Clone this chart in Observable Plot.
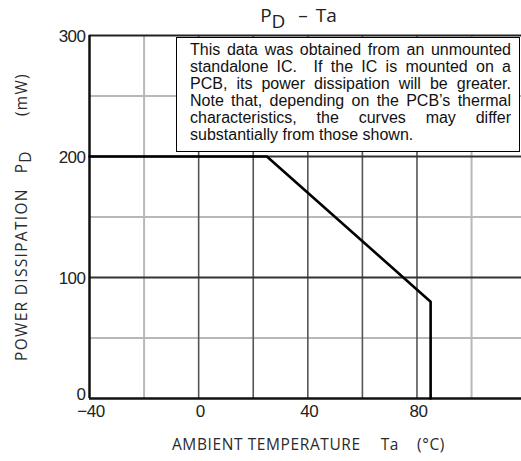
<!DOCTYPE html>
<html>
<head>
<meta charset="utf-8">
<script src="https://cdn.jsdelivr.net/npm/d3@7"></script>
<script src="https://cdn.jsdelivr.net/npm/@observablehq/plot@0.6"></script>
<style>
  body { margin: 0; background: #fff; }
  #wrap { position: relative; width: 521px; height: 461px; overflow: hidden; background: #fff; }
  #note {
    position: absolute; left: 176px; top: 37px; width: 344px; height: 115px;
    box-sizing: border-box; border: 1.5px solid #000; background: #fff;
    padding: 2.5px 8px 0 13px;
    font-family: "Liberation Sans", Arial, sans-serif; font-size: 16px; line-height: 17px; color: #111;
  }
  #note div { text-align: justify; text-align-last: justify; white-space: pre-wrap; }
  #note div.last { text-align-last: left; }
  g[aria-label="x-axis tick label"] text, g[aria-label="y-axis tick label"] text {
    font-family: "Liberation Sans", Arial, sans-serif; font-size: 17px; fill: #222; letter-spacing: -0.5px;
  }
  .lblx text { font-family: "Open Sans", "Noto Sans", sans-serif; font-size: 15.5px; letter-spacing: 0.6px; fill: #2a2a2a; }
  .lbly text { font-family: "Open Sans", "Noto Sans", sans-serif; font-size: 15.5px; letter-spacing: 1.3px; fill: #2a2a2a; }
  .ttl text { font-family: "Open Sans", "Noto Sans", sans-serif; font-size: 19px; fill: #222; }
</style>
</head>
<body>
<div id="wrap"></div>
<script>
// Data
const temperature = [-40, 25, 85, 85];        // Ta (°C)
const powerDissipation = [200, 200, 80, 0];   // PD (mW)
const xTickValues = [-40, 0, 40, 80];
const yTickValuesUpper = [100, 200, 300];
const yTickValuesZero = [0];
const xGridDark = [0, 20, 40, 60, 80];
const xGridLight = [-20, 100];
const yGridDark = [100, 200];
const yGridLight = [50, 150, 250];
const noteLines = [
  "This data was obtained from an unmounted",
  "standalone IC.  If the IC is mounted on a",
  "PCB, its power dissipation will be greater.",
  "Note that, depending on the PCB’s thermal",
  "characteristics, the curves may differ",
  "substantially from those shown."
];

const curve = temperature.map((t, i) => ({t, p: powerDissipation[i]}));

const chart = Plot.plot({
  width: 521,
  height: 461,
  marginLeft: 89,
  marginRight: 0,
  marginTop: 35,
  marginBottom: 63,
  style: {background: "#fff", overflow: "visible"},
  x: {domain: [-40, 118.3]},
  y: {domain: [0, 300]},
  marks: [
    Plot.ruleX(xGridLight, {stroke: "#b8b8b8", strokeWidth: 2}),
    Plot.ruleY(yGridLight, {stroke: "#b8b8b8", strokeWidth: 2}),
    Plot.ruleX(xGridDark, {stroke: "#555", strokeWidth: 1.6}),
    Plot.ruleY(yGridDark, {stroke: "#333", strokeWidth: 1.8}),
    Plot.ruleY([300], {stroke: "#222", strokeWidth: 2}),
    Plot.ruleY([0], {stroke: "#111", strokeWidth: 2.5}),
    Plot.ruleX([-40], {stroke: "#111", strokeWidth: 2.5}),
    Plot.line(curve, {x: "t", y: "p", stroke: "#000", strokeWidth: 2.6}),
    Plot.axisX({ticks: xTickValues, tickSize: 0, tickPadding: 6, dx: 1.5, label: null}),
    Plot.axisY({ticks: yTickValuesUpper, tickSize: 0, tickPadding: 4, dy: 1.5, label: null}),
    Plot.axisY({ticks: yTickValuesZero, tickSize: 0, tickPadding: 4, dy: -4, label: null}),
    Plot.text(["title"], {frameAnchor: "top", textAnchor: "middle", lineAnchor: "middle", dx: -7, dy: -20, className: "ttl"}),
    Plot.text(["xlabel"], {frameAnchor: "bottom", textAnchor: "middle", lineAnchor: "middle", dx: 3, dy: 47, className: "lblx"}),
    Plot.text(["ylabel"], {frameAnchor: "left", textAnchor: "middle", lineAnchor: "middle", dx: -67, dy: 0, rotate: -90, className: "lbly"})
  ]
});

const wrap = document.getElementById("wrap");
wrap.appendChild(chart);

function setSpans(sel, parts) {
  sel.text(null);
  parts.forEach(p => {
    const ts = sel.append("tspan").text(p.t);
    if (p.dx) ts.attr("dx", p.dx);
    if (p.dy) ts.attr("dy", p.dy);
  });
}
const svg = d3.select(chart);
setSpans(svg.select(".ttl text"), [
  {t: "P"}, {t: "D", dy: 6}, {t: "–", dx: 13, dy: -6}, {t: "Ta", dx: 8}
]);
setSpans(svg.select(".lblx text"), [
  {t: "AMBIENT TEMPERATURE"}, {t: "Ta", dx: 20}, {t: "(°C)", dx: 18}
]);
setSpans(svg.select(".lbly text"), [
  {t: "POWER DISSIPATION"}, {t: "P", dx: 15}, {t: "D", dy: 4}, {t: "(mW)", dx: 34, dy: -4}
]);

const note = document.createElement("div");
note.id = "note";
noteLines.forEach((line, i) => {
  const d = document.createElement("div");
  d.textContent = line;
  if (i === noteLines.length - 1) d.className = "last";
  note.appendChild(d);
});
wrap.appendChild(note);
</script>
</body>
</html>
